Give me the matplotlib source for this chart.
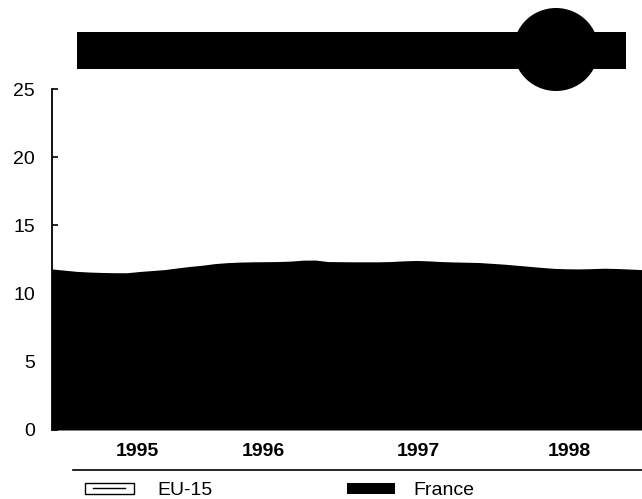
import matplotlib
matplotlib.use("Agg")
import matplotlib.pyplot as plt
from matplotlib.patches import Rectangle, Ellipse
from matplotlib.lines import Line2D
import numpy as np

plt.rcParams['font.family'] = ['Liberation Sans', 'DejaVu Sans']

# Monthly values (France), Jan 1995 .. Dec 1998 approx.
france = [11.81, 11.72, 11.63, 11.58, 11.55, 11.53, 11.53, 11.62, 11.69, 11.76, 11.88, 11.99,
          12.08, 12.20, 12.27, 12.31, 12.33, 12.34, 12.35, 12.38, 12.45, 12.46, 12.35, 12.34,
          12.33, 12.33, 12.33, 12.35, 12.40, 12.43, 12.40, 12.35, 12.32, 12.30, 12.28, 12.22,
          12.16, 12.08, 12.00, 11.92, 11.85, 11.82, 11.81, 11.83, 11.86, 11.84, 11.80, 11.76]
year_labels = ['1995', '1996', '1997', '1998']
year_label_pos = [6.8, 16.9, 29.2, 41.2]
y_ticks = [0, 5, 10, 15, 20, 25]
legend_labels = ['EU-15', 'France']

W, H = 642, 499
fig = plt.figure(figsize=(W / 100, H / 100), dpi=100)
ax = fig.add_axes([51.5 / W, 1 - 430 / H, (642 - 51.5) / W, (430 - 89) / H])

x = np.arange(len(france))
ax.fill_between(x, 0, france, color='black', linewidth=0)
ax.set_xlim(0, len(france) - 1)
ax.set_ylim(0, 25)

for s in ['top', 'right', 'bottom']:
    ax.spines[s].set_visible(False)
ax.spines['left'].set_linewidth(1.3)
ax.set_yticks(y_ticks)
ax.tick_params(axis='y', direction='in', length=4.5, width=1.2, labelsize=14, pad=12)
ax.set_xticks(year_label_pos)
ax.set_xticklabels(year_labels, fontsize=14, fontweight='bold')
ax.tick_params(axis='x', length=0, pad=9)

# decorative banner at top
fig.patches.append(Rectangle((77 / W, 1 - 69 / H), (626 - 77) / W, 37 / H,
                             transform=fig.transFigure, facecolor='black', edgecolor='none'))
fig.patches.append(Ellipse((556 / W, 1 - 49.5 / H), 85 / W, 83 / H,
                           transform=fig.transFigure, facecolor='black', edgecolor='none'))

# separator line
fig.lines.append(Line2D([73 / W, 1.0], [1 - 470 / H, 1 - 470 / H], transform=fig.transFigure,
                        color='black', linewidth=1.2))

# legend
fig.patches.append(Rectangle((85 / W, 1 - 494 / H), 49 / W, 11 / H, transform=fig.transFigure,
                             facecolor='white', edgecolor='black', linewidth=1.0))
fig.lines.append(Line2D([93 / W, 125 / W], [1 - 488 / H, 1 - 488 / H], transform=fig.transFigure,
                        color='black', linewidth=1.0))
fig.text(157 / W, 1 - 495 / H, legend_labels[0], fontsize=14, ha='left', va='baseline')
fig.patches.append(Rectangle((347 / W, 1 - 494 / H), 48 / W, 11 / H, transform=fig.transFigure,
                             facecolor='black', edgecolor='none'))
fig.text(413 / W, 1 - 495 / H, legend_labels[1], fontsize=14, ha='left', va='baseline')

fig.savefig('out.png', dpi=100)
